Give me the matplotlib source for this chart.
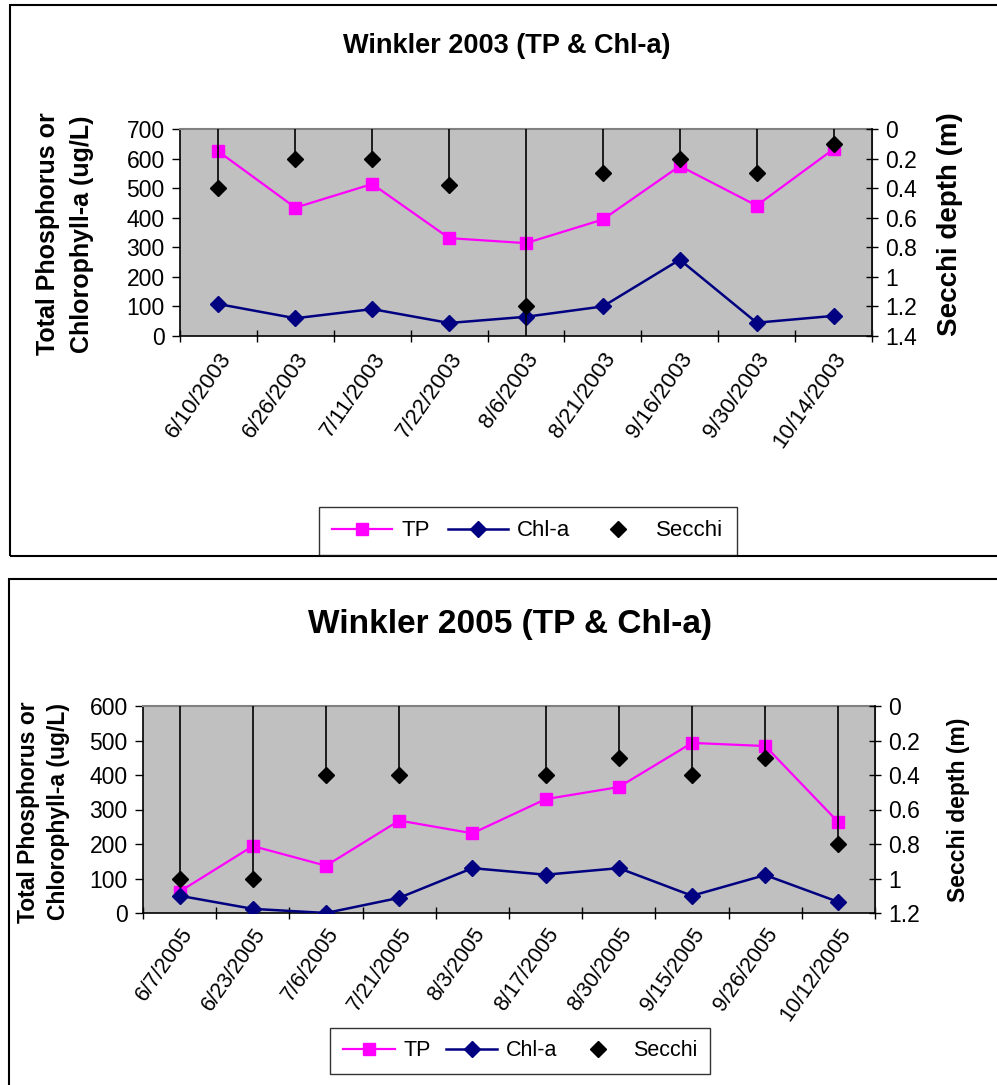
import numpy as np
import matplotlib
matplotlib.use("Agg")
import matplotlib.pyplot as plt
from matplotlib.lines import Line2D
from matplotlib.patches import Rectangle
from matplotlib.ticker import FuncFormatter

plt.rcParams['font.family'] = ['Liberation Sans', 'DejaVu Sans']

# ---------------- data ----------------
dates_2003 = ["6/10/2003", "6/26/2003", "7/11/2003", "7/22/2003", "8/6/2003",
              "8/21/2003", "9/16/2003", "9/30/2003", "10/14/2003"]
tp_2003 = [624, 434, 514, 331, 314, 394, 575, 441, 632]
chla_2003 = [108, 60, 91, 44, 65, 100, 258, 45, 68]
secchi_2003 = [0.4, 0.2, 0.2, 0.38, 1.2, 0.3, 0.2, 0.3, 0.1]
secchi_err_deep_2003 = [0, 0, 0, 0, 0.3, 0, 0, 0, 0]

dates_2005 = ["6/7/2005", "6/23/2005", "7/6/2005", "7/21/2005", "8/3/2005",
              "8/17/2005", "8/30/2005", "9/15/2005", "9/26/2005", "10/12/2005"]
tp_2005 = [62, 194, 137, 268, 231, 330, 365, 493, 484, 263]
chla_2005 = [50, 12, 0, 44, 130, 111, 130, 50, 110, 32]
secchi_2005 = [1.0, 1.0, 0.4, 0.4, np.nan, 0.4, 0.3, 0.4, 0.3, 0.8]
secchi_err_deep_2005 = [0, 0, 0, 0, 0, 0, 0, 0, 0, 0]

W, H = 997, 1085
fig = plt.figure(figsize=(W / 100, H / 100), dpi=100)


def rect(l, t, r, b):
    return [l / W, 1 - b / H, (r - l) / W, (b - t) / H]


def px(x, y):
    return x / W, 1 - y / H


TP_C = '#FF00FF'
CHL_C = '#000080'


def make_chart(box, dates, tp, chla, secchi, err_deep, ymax, smax, tick_fs,
               xlab_fs, xpad):
    ax = fig.add_axes(rect(*box))
    ax.set_facecolor('#C0C0C0')
    n = len(dates)
    x = np.arange(n)
    ax.plot(x, tp, color=TP_C, lw=1.6, marker='s', ms=9, mfc=TP_C, mec=TP_C,
            zorder=3)
    ax.plot(x, chla, color=CHL_C, lw=1.8, marker='D', ms=8, mfc=CHL_C,
            mec=CHL_C, zorder=4)
    ax.set_xlim(-0.5, n - 0.5)
    ax.set_ylim(0, ymax)
    ax.set_yticks(np.arange(0, ymax + 1, 100))
    ax.set_xticks(np.arange(n + 1) - 0.5)
    ax.set_xticklabels([])
    ax.set_xticks(x, minor=True)
    ax.set_xticklabels(dates, minor=True, rotation=55, ha='right',
                       va='top', rotation_mode='anchor', fontsize=xlab_fs)
    ax.tick_params(axis='x', which='major', direction='inout', length=9,
                   width=1)
    ax.tick_params(axis='x', which='minor', length=0, pad=xpad)
    ax.tick_params(axis='y', direction='out', length=6, width=1, pad=5,
                   labelsize=tick_fs)
    for s in ['left', 'bottom']:
        ax.spines[s].set_color('black')
        ax.spines[s].set_linewidth(1.2)
    ax.spines['top'].set_color('#808080')
    ax.spines['top'].set_linewidth(1.5)
    ax.spines['right'].set_color('#808080')

    ax2 = ax.twinx()
    ax2.set_ylim(smax, 0)
    ax2.set_yticks(np.arange(0, smax + 0.001, 0.2))
    ax2.yaxis.set_major_formatter(FuncFormatter(lambda v, p: f"{round(v, 1):g}"))
    ax2.tick_params(axis='y', direction='inout', length=9, width=1, pad=5,
                    labelsize=tick_fs)
    ax2.spines['right'].set_color('black')
    ax2.spines['right'].set_linewidth(1.2)
    for s in ['left', 'bottom', 'top']:
        ax2.spines[s].set_visible(False)
    sec = np.array(secchi, dtype=float)
    lower = np.nan_to_num(sec)
    ax2.errorbar(x, sec, yerr=[lower, err_deep], fmt='D', color='black',
                 ecolor='black', elinewidth=1.2, capsize=0, ms=8, zorder=5)
    return ax, ax2


# ---------------- chart 1 ----------------
make_chart((180, 129, 872, 336), dates_2003, tp_2003, chla_2003, secchi_2003,
           secchi_err_deep_2003, 700, 1.4, 16.5, 16, 9)
fig.text(*px(507, 53), "Winkler 2003 (TP & Chl-a)", ha='center',
         va='baseline', fontsize=19.5, fontweight='bold')
fig.text(*px(47.5, 234), "Total Phosphorus or", rotation=90, ha='center',
         va='center', fontsize=18, fontweight='bold')
fig.text(*px(82, 234), "Chlorophyll-a (ug/L)", rotation=90, ha='center',
         va='center', fontsize=18, fontweight='bold')
fig.text(*px(950, 224), "Secchi depth (m)", rotation=90, ha='center',
         va='center', fontsize=20, fontweight='bold')

# ---------------- chart 2 ----------------
make_chart((143, 706, 875, 913), dates_2005, tp_2005, chla_2005, secchi_2005,
           secchi_err_deep_2005, 600, 1.2, 16.5, 15.5, 8)
fig.text(*px(510, 633), "Winkler 2005 (TP & Chl-a)", ha='center',
         va='baseline', fontsize=24, fontweight='bold')
fig.text(*px(28.5, 812), "Total Phosphorus or", rotation=90, ha='center',
         va='center', fontsize=16.5, fontweight='bold')
fig.text(*px(58, 812), "Chlorophyll-a (ug/L)", rotation=90, ha='center',
         va='center', fontsize=16.5, fontweight='bold')
fig.text(*px(958, 810), "Secchi depth (m)", rotation=90, ha='center',
         va='center', fontsize=16.5, fontweight='bold')

# ---------------- legends ----------------
handles = [
    Line2D([], [], color=TP_C, lw=1.6, marker='s', ms=9, mfc=TP_C, mec=TP_C),
    Line2D([], [], color=CHL_C, lw=1.8, marker='D', ms=8, mfc=CHL_C, mec=CHL_C),
    Line2D([], [], color='black', lw=0, marker='D', ms=8),
]
labels = ["TP", "Chl-a", "Secchi"]

leg1 = fig.legend(handles, labels, loc='center', bbox_to_anchor=px(528, 531),
                  ncol=3, frameon=True, fancybox=False, fontsize=16,
                  handlelength=2.7, handletextpad=0.4, columnspacing=0.8,
                  borderpad=0.6, borderaxespad=0)
leg1.get_frame().set_edgecolor('black')
leg1.get_frame().set_linewidth(1.0)

leg2 = fig.legend(handles, labels, loc='center', bbox_to_anchor=px(520, 1051),
                  ncol=3, frameon=True, fancybox=False, fontsize=15.5,
                  handlelength=2.4, handletextpad=0.4, columnspacing=0.7,
                  borderpad=0.6, borderaxespad=0)
leg2.get_frame().set_edgecolor('black')
leg2.get_frame().set_linewidth(1.0)

# ---------------- outer frames ----------------
fig.add_artist(Rectangle(px(9.5, 556), (1010 - 9.5) / W, (556 - 5) / H,
                         transform=fig.transFigure, fill=False,
                         edgecolor='black', lw=1.5, clip_on=False))
fig.add_artist(Rectangle(px(9, 1100), (1010 - 9) / W, (1100 - 579) / H,
                         transform=fig.transFigure, fill=False,
                         edgecolor='black', lw=1.5, clip_on=False))

fig.savefig("out.png", dpi=100)
